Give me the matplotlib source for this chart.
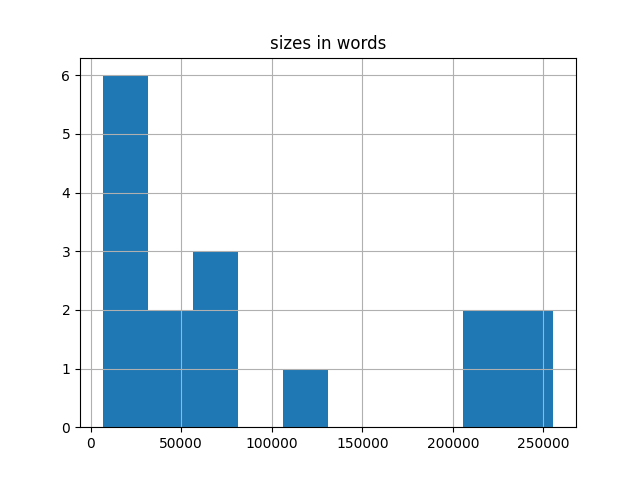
import matplotlib
matplotlib.use('Agg')
import matplotlib.pyplot as plt

# word counts per document
sizes = [6637, 12000, 15500, 19800, 24300, 29100,
         38200, 47600,
         61000, 70500, 78900,
         118400,
         212300, 224800,
         241700, 255530]

fig, ax = plt.subplots(figsize=(6.4, 4.8), dpi=100)
ax.hist(sizes, bins=10)
ax.grid(True)
ax.set_title('sizes in words')
fig.savefig('out.png')
